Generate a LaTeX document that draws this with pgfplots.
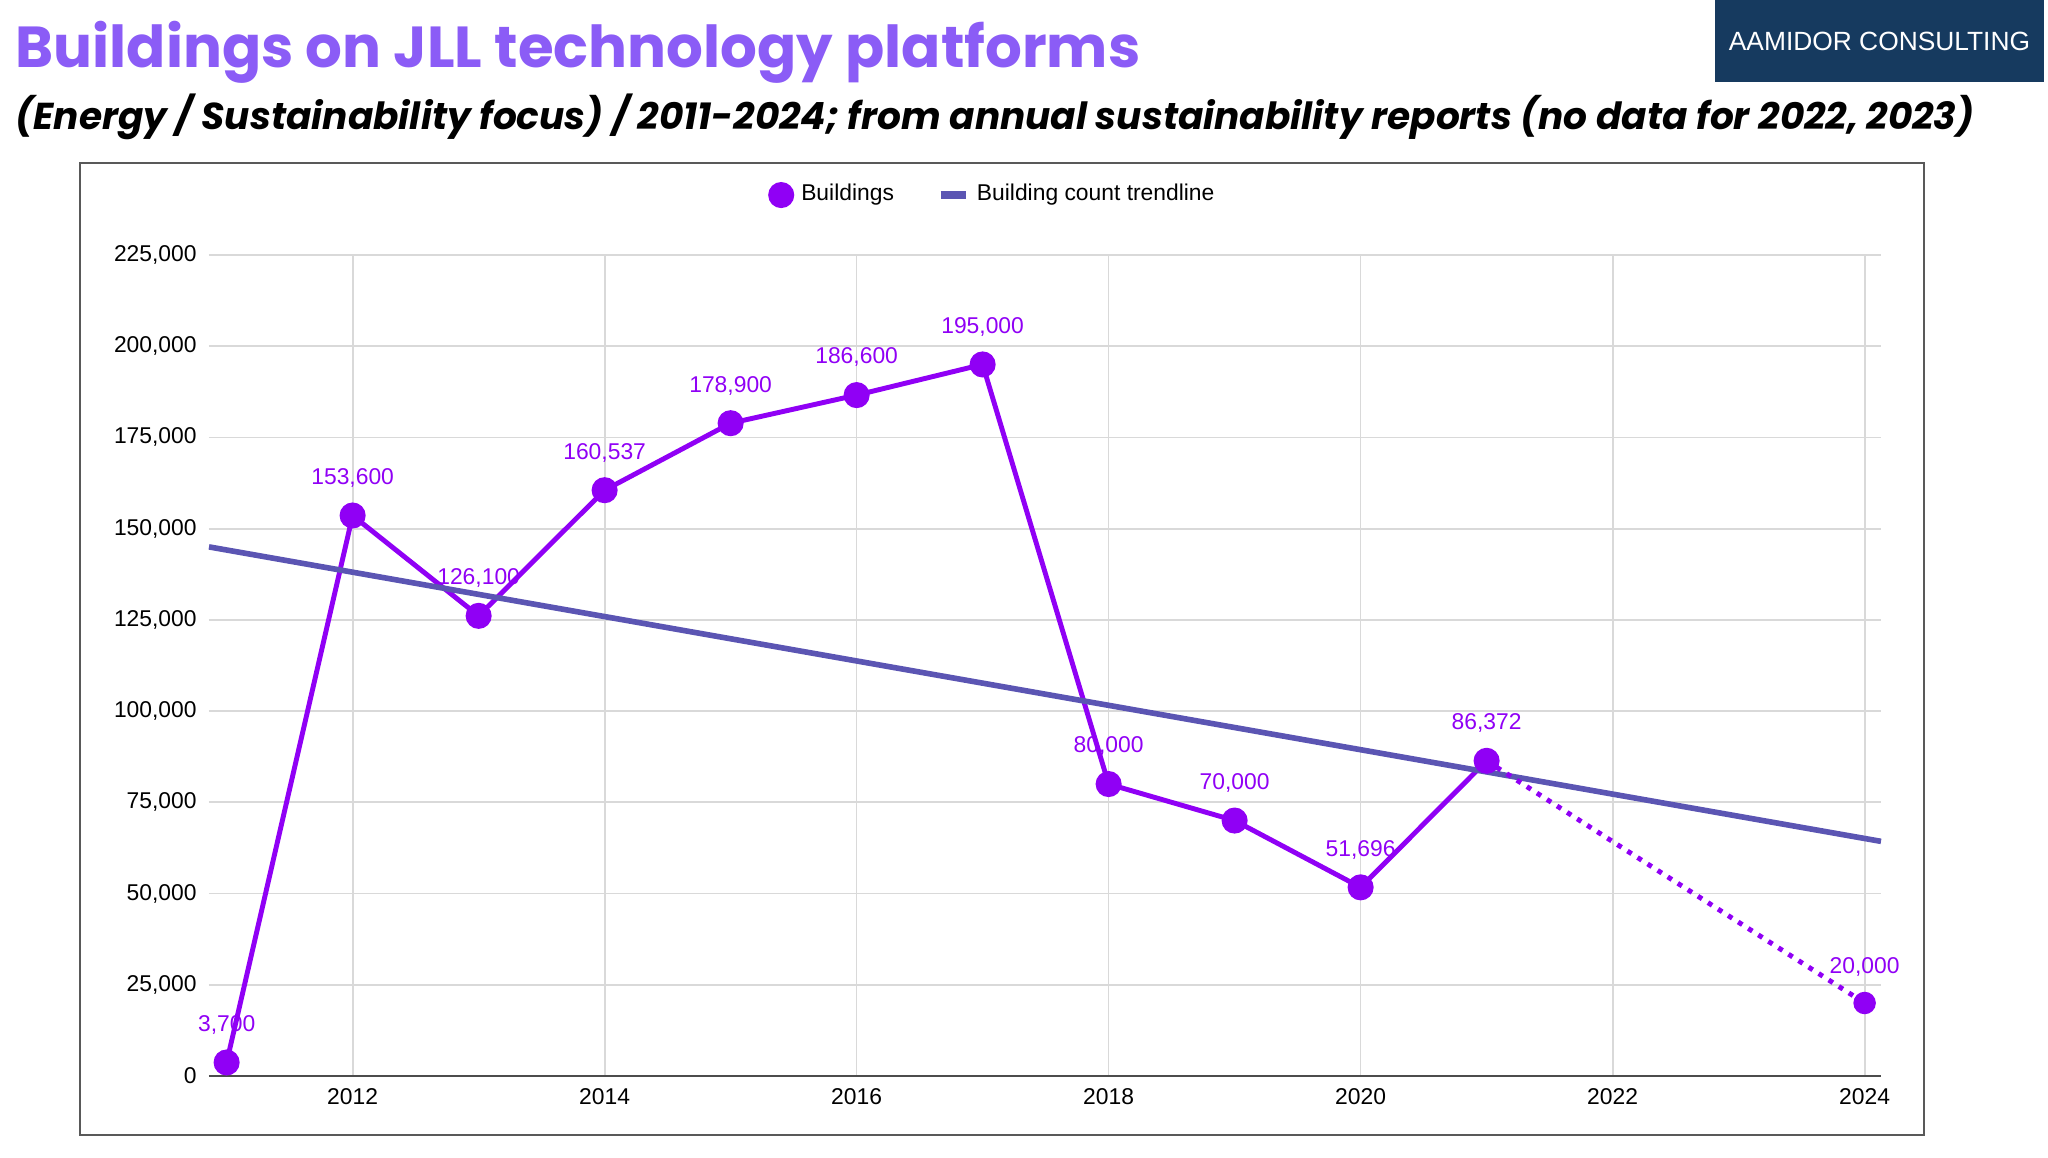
\documentclass[border=0pt]{standalone}
\usepackage{pgfplots}
\pgfplotsset{compat=1.18}
\usepackage{fontspec}
\setmainfont{Liberation Sans}
\newfontfamily\pop{Poppins}
\definecolor{ttl}{HTML}{8B5CF6}
\definecolor{ser}{HTML}{9000F5}
\definecolor{trd}{HTML}{5B55B3}
\definecolor{navy}{HTML}{163A5F}
\begin{document}
\begin{tikzpicture}[x=1cm,y=1cm]
\path (0,0) rectangle (20.48,11.58);
\fill[navy] (17.15,10.76) rectangle (20.44,11.58);
\node[white,font=\fontsize{7.5}{9}\selectfont] at (18.795,11.17) {AAMIDOR CONSULTING};
\node[anchor=base west,text=ttl,font=\pop\bfseries\fontsize{16.45}{19}\selectfont,inner sep=0] at (0.15,10.9) {Buildings on JLL technology platforms};
\node[anchor=base west,font=\pop\bfseries\itshape\fontsize{10.66}{12}\selectfont,inner sep=0] at (0.15,10.28) {(Energy / Sustainability focus) / 2011-2024; from annual sustainability reports (no data for 2022, 2023)};
\draw[gray!70!black,line width=0.6pt] (0.80,0.23) rectangle (19.24,9.95);
\begin{axis}[at={(2.09cm,0.82cm)},anchor=south west,scale only axis,
 width=16.72cm,height=8.21cm,
 xmin=2010.86,xmax=2024.13,ymin=0,ymax=225000,
 xtick={2012,2014,...,2024},ytick={0,25000,...,225000},
 xticklabel style={/pgf/number format/1000 sep=},
 yticklabel style={/pgf/number format/fixed,/pgf/number format/1000 sep={,}},
 /pgf/number format/assume math mode=true,
 scaled y ticks=false,
 tick label style={font=\fontsize{6.5}{8}\selectfont},
 grid=major,grid style={gray!30,line width=0.5pt},
 axis x line*=bottom, axis y line*=left, y axis line style={draw=none},
 x axis line style={draw=black!70,-},
 tick style={draw=none},
 legend style={at={(0.47,1.073)},anchor=center,draw=none,fill=none,legend columns=2,font=\fontsize{6.5}{8}\selectfont,/tikz/every even column/.append style={column sep=10pt}},
 nodes near coords style={font=\fontsize{6.5}{8}\selectfont,text=ser,/pgf/number format/fixed,/pgf/number format/1000 sep={,},anchor=south,yshift=4pt},
 clip=false]
\addplot[ser,line width=1.4pt,mark=*,mark size=3pt,nodes near coords,
 legend image code/.code={\fill[ser] (0.25cm,0) circle (3pt);}]
 coordinates {(2011,3700)(2012,153600)(2013,126100)(2014,160537)(2015,178900)(2016,186600)(2017,195000)(2018,80000)(2019,70000)(2020,51696)(2021,86372)};
\addlegendentry{Buildings}
\addplot[trd,line width=1.6pt,legend image code/.code={\draw[trd,line width=2.5pt] (0.05cm,0) -- (0.3cm,0);}] coordinates {(2010.86,145000)(2024.13,64300)};
\addlegendentry{Building count trendline}
\addplot[ser,line width=1.4pt,dotted,forget plot] coordinates {(2021,86372)(2024,20000)};
\addplot[ser,only marks,mark=*,mark size=3pt,forget plot,nodes near coords] coordinates {(2024,20000)};
\end{axis}
\end{tikzpicture}
\end{document}
